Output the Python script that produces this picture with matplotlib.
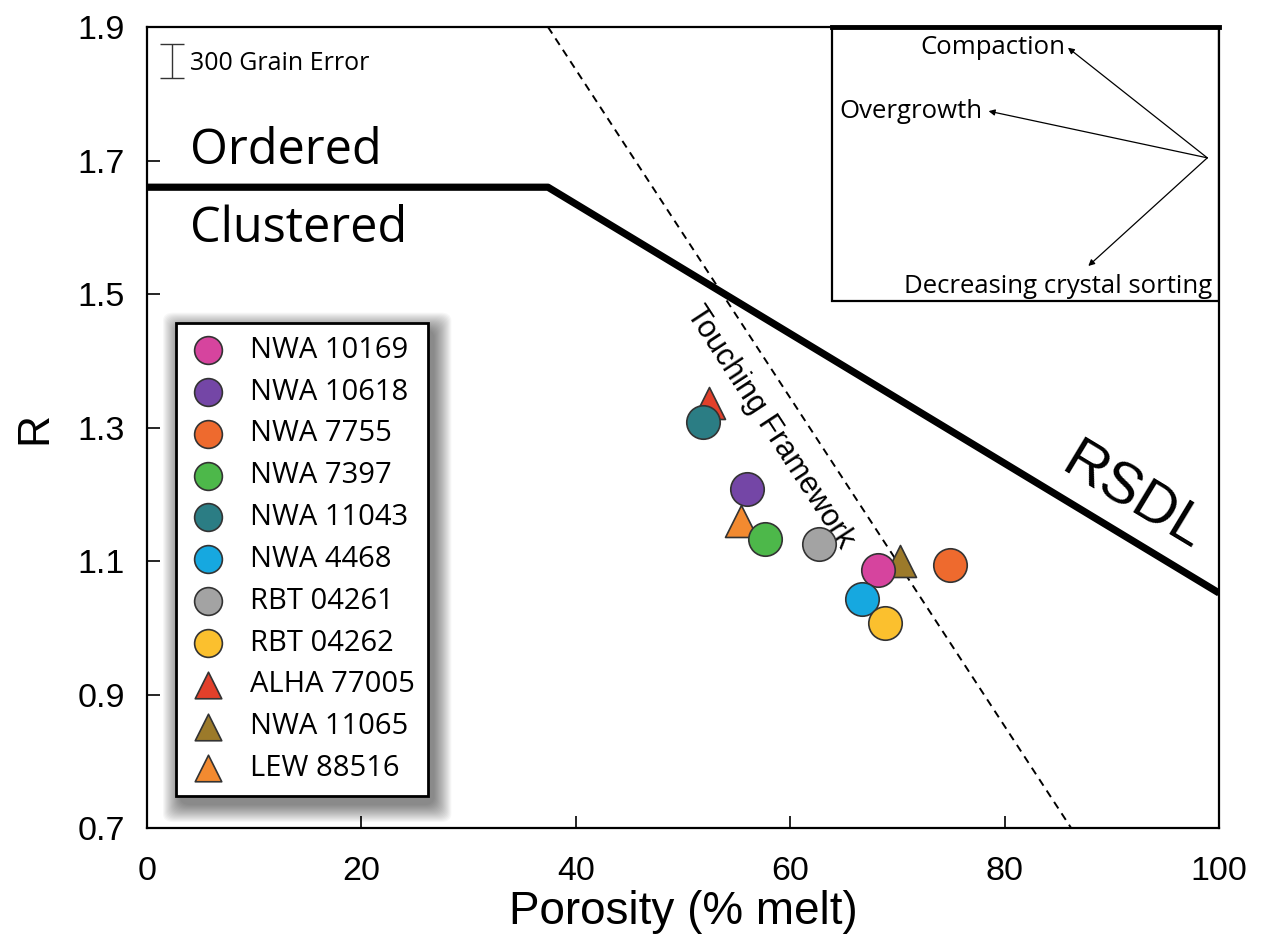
import math
import matplotlib
matplotlib.use("Agg")
import matplotlib.pyplot as plt
import matplotlib.patches as mpatches

# ── Data ──────────────────────────────────────────────────
samples = ["NWA 10169", "NWA 10618", "NWA 7755", "NWA 7397", "NWA 11043",
           "NWA 4468", "RBT 04261", "RBT 04262", "ALHA 77005", "NWA 11065",
           "LEW 88516"]
porosity = [68.2, 56.0, 74.9, 57.6, 51.9, 66.7, 62.7, 68.8, 52.4, 70.2, 55.4]
r_value = [1.087, 1.208, 1.094, 1.133, 1.308, 1.043, 1.125, 1.007, 1.337, 1.100, 1.160]
markers = ["o", "o", "o", "o", "o", "o", "o", "o", "^", "^", "^"]
colors = ["#D6449E", "#7446A6", "#EE6A2E", "#4DB84A", "#2B7D84", "#16A8E0",
          "#A3A3A3", "#FBC02E", "#E2402B", "#9C7A2A", "#F28A30"]

# RSDL boundary and touching-framework line
rsdl_x = [0, 37.4, 100]
rsdl_y = [1.66, 1.66, 1.052]
frame_x = [37.4, 86.2]
frame_y = [1.9, 0.7]

x_ticks = [0, 20, 40, 60, 80, 100]
y_ticks = [0.7, 0.9, 1.1, 1.3, 1.5, 1.7, 1.9]

AXFONT = "Liberation Sans"
BODY = "Open Sans"

fig = plt.figure(figsize=(12.62, 9.51), dpi=100)
ax = fig.add_axes([0.1165, 0.1293, 0.8495, 0.8423])
ax.set_xlim(0, 100)
ax.set_ylim(0.7, 1.9)

for s in ax.spines.values():
    s.set_linewidth(1.6)

ax.set_xticks(x_ticks)
ax.set_yticks(y_ticks)
ax.set_yticklabels([f"{v:.1f}" for v in y_ticks])
ax.tick_params(direction="in", length=9, width=1.2, top=False, right=False,
               labelsize=24.5)
ax.tick_params(axis="x", pad=20)
ax.tick_params(axis="y", pad=16)
for lab in ax.get_xticklabels() + ax.get_yticklabels():
    lab.set_fontfamily(AXFONT)

ax.set_xlabel("Porosity (% melt)", fontsize=33, family=AXFONT, labelpad=2)
ax.set_ylabel("R", fontsize=32, family=AXFONT, labelpad=16)

# boundary lines
ax.plot(rsdl_x, rsdl_y, color="black", lw=5.2, solid_capstyle="butt", zorder=3)
ax.plot(frame_x, frame_y, color="black", lw=1.4, ls=(0, (4, 3)), zorder=3)


def screen_angle(x0, y0, x1, y1):
    p0 = ax.transData.transform((x0, y0))
    p1 = ax.transData.transform((x1, y1))
    return math.degrees(math.atan2(p1[1] - p0[1], p1[0] - p0[0]))


ang_frame = screen_angle(frame_x[0], frame_y[0], frame_x[1], frame_y[1])
ang_rsdl = screen_angle(rsdl_x[1], rsdl_y[1], rsdl_x[2], rsdl_y[2])

ax.text(58.1, 1.30, "Touching Framework", rotation=ang_frame,
        rotation_mode="anchor", ha="center", va="center",
        fontsize=22, family=AXFONT, zorder=4)
ax.text(92.0, 1.195, "RSDL", rotation=ang_rsdl, rotation_mode="anchor",
        ha="center", va="center", fontsize=42, family=AXFONT, zorder=4)

ax.text(4.0, 1.714, "Ordered", ha="left", va="center", fontsize=35, family=BODY)
ax.text(4.0, 1.597, "Clustered", ha="left", va="center", fontsize=35, family=BODY)

# grain-count error bar
ax.errorbar([2.35], [1.849], yerr=[0.0255], color="#333333", lw=1.0,
            capsize=8.5, capthick=1.0)
ax.text(4.0, 1.846, "300 Grain Error", ha="left", va="center",
        fontsize=18, family=BODY)

# process inset
ax.add_patch(mpatches.Rectangle((63.9, 1.49), 36.1, 0.41, fill=False,
                                edgecolor="black", lw=1.6, zorder=2))
ax.plot([63.9, 100], [1.9, 1.9], color="black", lw=3.5, clip_on=False, zorder=3)

origin = (98.9, 1.704)
arrow_kw = dict(arrowstyle="-|>", color="black", lw=0.9, mutation_scale=9,
                shrinkA=0, shrinkB=0)
ax.annotate("", xy=(85.9, 1.869), xytext=origin, arrowprops=arrow_kw)
ax.annotate("", xy=(78.5, 1.774), xytext=origin, arrowprops=arrow_kw)
ax.annotate("", xy=(87.8, 1.542), xytext=origin, arrowprops=arrow_kw)
ax.text(85.7, 1.869, "Compaction", ha="right", va="center", fontsize=18.5, family=BODY)
ax.text(64.6, 1.774, "Overgrowth", ha="left", va="center", fontsize=18.5, family=BODY)
ax.text(99.4, 1.512, "Decreasing crystal sorting", ha="right", va="center",
        fontsize=18.5, family=BODY)

# samples: triangles beneath circles
for name, x, y, m, c in zip(samples, porosity, r_value, markers, colors):
    size = 530 if m == "^" else 580
    ax.scatter([x], [y], s=size, marker=m, color=c, edgecolor="#333333",
               linewidth=1.2, label=name, zorder=5 if m == "^" else 6)

leg = ax.legend(loc="upper left", bbox_to_anchor=(0.027, 0.631),
                borderaxespad=0, frameon=True, fancybox=False, framealpha=1,
                edgecolor="black", markerscale=0.83,
                labelspacing=0.44, handlelength=1.3, handletextpad=0.8,
                borderpad=0.45, prop={"family": BODY, "size": 21})
leg.get_frame().set_linewidth(2.0)
leg.set_zorder(10)

# soft shadow under the legend
fig.canvas.draw()
bb = leg.get_frame().get_window_extent(fig.canvas.get_renderer())
inv = ax.transAxes.inverted()
n = 18
for k in range(n):
    pad = 18 * (1 - k / n)
    (x0, y0), (x1, y1) = inv.transform([(bb.x0 + 5 - pad, bb.y0 - 8 - pad),
                                        (bb.x1 + 5 + pad, bb.y1 - 8 + pad)])
    ax.add_patch(mpatches.FancyBboxPatch((x0, y0), x1 - x0, y1 - y0,
                                         boxstyle="round,pad=0,rounding_size=0.01",
                                         transform=ax.transAxes, facecolor="black",
                                         edgecolor="none", alpha=0.032, zorder=8))

fig.savefig("out.png", dpi=100, facecolor="white")
